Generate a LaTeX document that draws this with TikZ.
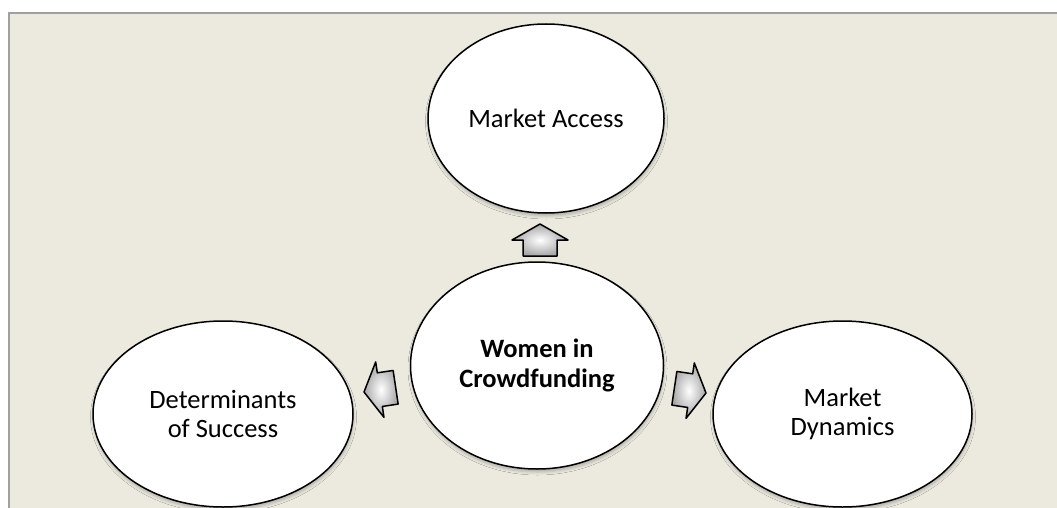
\documentclass[tikz,border=0pt]{standalone}
\usepackage{fontspec}
\setmainfont{Carlito}
\usetikzlibrary{shapes.geometric,shadows.blur}
\definecolor{bgc}{RGB}{236,233,223}
\definecolor{framec}{RGB}{160,160,160}
\begin{document}
\begin{tikzpicture}[x=1pt,y=-1pt,
  bubble/.style={ellipse, draw=black, line width=1.5pt, fill=white, align=center,
    font=\fontsize{26.5}{29.5}\selectfont, inner sep=0pt,
    blur shadow={shadow xshift=0.5pt, shadow yshift=-3pt, shadow opacity=25, shadow blur radius=3pt}},
  blockarrow/.pic={\shadedraw[line width=1.5pt, line join=round, inner color=white, outer color=black!35]
      (0,0) -- (-16,28) -- (-16,17) -- (-32,17) -- (-32,-17) -- (-16,-17) -- (-16,-28) -- cycle;}
]
\useasboundingbox (0,0) rectangle (1057,508);
\fill[bgc] (8,12) rectangle (1057,508);
\draw[framec, line width=2pt] (9,508) -- (9,13) -- (1057,13);

\node[bubble, minimum width=236pt, minimum height=189pt] (access) at (546,118.5) {Market Access};
\node[bubble, minimum width=253pt, minimum height=207pt] (women) at (537,365.5) {\textbf{Women in}\\\textbf{Crowdfunding}};
\node[bubble, minimum width=260pt, minimum height=186pt] (determ) at (223,414) {Determinants\\of Success};
\node[bubble, minimum width=259pt, minimum height=186pt] (dyn) at (842.5,414) {Market\\Dynamics};

\pic[rotate=90] at (540,224) {blockarrow};
\pic[rotate=188.5] at (364,392) {blockarrow};
\pic[rotate=-8.5] at (706,393) {blockarrow};
\end{tikzpicture}
\end{document}
